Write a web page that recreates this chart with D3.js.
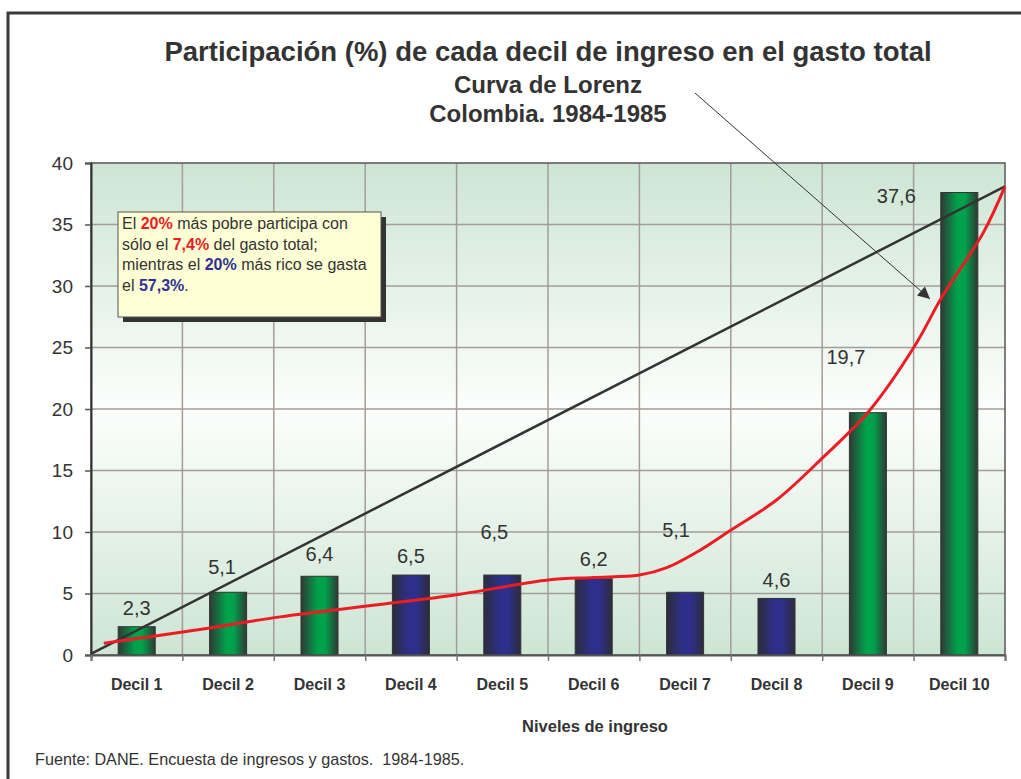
<!DOCTYPE html>
<html>
<head>
<meta charset="utf-8">
<script src="https://cdn.jsdelivr.net/npm/d3@7"></script>
<style>
  body { margin: 0; background: #fff; }
  text { font-family: "Liberation Sans", Arial, sans-serif; fill: #333; white-space: pre; }
</style>
</head>
<body>
<div id="chart"></div>
<script>
// data
const categories = ["Decil 1", "Decil 2", "Decil 3", "Decil 4", "Decil 5",
                    "Decil 6", "Decil 7", "Decil 8", "Decil 9", "Decil 10"];
const shares = [2.3, 5.1, 6.4, 6.5, 6.5, 6.2, 5.1, 4.6, 19.7, 37.6];
const shareLabels = ["2,3", "5,1", "6,4", "6,5", "6,5", "6,2", "5,1", "4,6", "19,7", "37,6"];
const yTicks = [0, 5, 10, 15, 20, 25, 30, 35, 40];

// lorenz curve (x in decile units 0..10)
const lorenzX = [0.14, 1.3, 2.07, 3.16, 4.0, 5.0, 5.5, 6.0, 6.3, 6.66, 7.01, 7.5, 8.0, 8.52, 9.01, 9.31, 9.76, 10];
const lorenzY = [0.95, 2.2, 3.1, 4.1, 4.9, 6.1, 6.3, 6.5, 7.1, 8.5, 10.2, 12.6, 16.0, 19.9, 25.1, 29.1, 34.3, 38.1];
// equality line
const equalX = [0, 10];
const equalY = [0.1, 38.1];

// label nudges (the labels were moved by hand in the original)
const labelShift = [[0, -19], [-6, -25], [0, -22], [0, -19], [-8, -43],
                    [0, -20], [-9, -62], [0, -18], [-22, -56], [-63, 3]];

const W = 1021, H = 779;
const plotL = 91, plotR = 1005, plotT = 163, plotB = 655;
const font = "'Liberation Sans', Arial, sans-serif";

const svg = d3.select("#chart").append("svg")
  .attr("width", W).attr("height", H);

const defs = svg.append("defs");

let bg = defs.append("linearGradient").attr("id", "bg")
  .attr("x1", 0).attr("y1", 0).attr("x2", 0).attr("y2", 1);
bg.append("stop").attr("offset", "0%").attr("stop-color", "#cde5d4");
bg.append("stop").attr("offset", "50%").attr("stop-color", "#fcfefc");
bg.append("stop").attr("offset", "100%").attr("stop-color", "#cde5d4");

function cylinder(id, edge, mid) {
  let g = defs.append("linearGradient").attr("id", id)
    .attr("x1", 0).attr("y1", 0).attr("x2", 1).attr("y2", 0);
  g.append("stop").attr("offset", "0%").attr("stop-color", edge);
  g.append("stop").attr("offset", "45%").attr("stop-color", mid);
  g.append("stop").attr("offset", "65%").attr("stop-color", mid);
  g.append("stop").attr("offset", "100%").attr("stop-color", edge);
}
cylinder("greenBar", "#2f3a35", "#00a14b");
cylinder("blueBar", "#2c2c3c", "#2e2f8c");

defs.append("marker").attr("id", "arrow")
  .attr("viewBox", "0 0 10 10").attr("refX", 10).attr("refY", 5)
  .attr("markerWidth", 16).attr("markerHeight", 12).attr("markerUnits", "userSpaceOnUse")
  .attr("orient", "auto")
  .append("path").attr("d", "M0,0 L10,5 L0,10 z").attr("fill", "#333");

// outer frame
svg.append("rect")
  .attr("x", 8).attr("y", 13).attr("width", W + 20).attr("height", H + 20)
  .attr("fill", "none").attr("stroke", "#3a3a3a").attr("stroke-width", 3);

// scales
const x = d3.scaleBand().domain(categories).range([plotL, plotR]).padding(0);
const xLin = d3.scaleLinear().domain([0, 10]).range([plotL, plotR]);
const y = d3.scaleLinear().domain([0, 40]).range([plotB, plotT]);

// plot area
svg.append("rect")
  .attr("x", plotL).attr("y", plotT).attr("width", plotR - plotL).attr("height", plotB - plotT)
  .attr("fill", "url(#bg)");

// grid
svg.append("g").selectAll("line")
  .data(yTicks.slice(1, -1)).enter().append("line")
  .attr("x1", plotL).attr("x2", plotR)
  .attr("y1", d => y(d)).attr("y2", d => y(d))
  .attr("stroke", "#a59c9a").attr("stroke-width", 1.5);
svg.append("g").selectAll("line")
  .data(d3.range(1, 10)).enter().append("line")
  .attr("x1", d => xLin(d)).attr("x2", d => xLin(d))
  .attr("y1", plotT).attr("y2", plotB)
  .attr("stroke", "#a59c9a").attr("stroke-width", 1.5);

svg.append("rect")
  .attr("x", plotL).attr("y", plotT).attr("width", plotR - plotL).attr("height", plotB - plotT)
  .attr("fill", "none").attr("stroke", "#5a5656").attr("stroke-width", 1.5);

// bars
const barW = x.bandwidth() * 0.405;
svg.append("g").selectAll("rect")
  .data(shares).enter().append("rect")
  .attr("x", (d, i) => x(categories[i]) + (x.bandwidth() - barW) / 2)
  .attr("y", d => y(d))
  .attr("width", barW)
  .attr("height", d => plotB - y(d))
  .attr("fill", (d, i) => (i < 3 || i > 7) ? "url(#greenBar)" : "url(#blueBar)")
  .attr("stroke", "#333").attr("stroke-width", 1);

// equality line
svg.append("path")
  .datum(equalX.map((v, i) => [v, equalY[i]]))
  .attr("d", d3.line().x(d => xLin(d[0])).y(d => y(d[1])))
  .attr("fill", "none").attr("stroke", "#333").attr("stroke-width", 2.5);

// lorenz curve
svg.append("path")
  .datum(lorenzX.map((v, i) => [v, lorenzY[i]]))
  .attr("d", d3.line().curve(d3.curveCatmullRom.alpha(0.5)).x(d => xLin(d[0])).y(d => y(d[1])))
  .attr("fill", "none").attr("stroke", "#ed1c24").attr("stroke-width", 3);

// value labels
svg.append("g").selectAll("text")
  .data(shares).enter().append("text")
  .attr("x", (d, i) => x(categories[i]) + x.bandwidth() / 2 + labelShift[i][0])
  .attr("y", (d, i) => y(d) + labelShift[i][1])
  .attr("dy", "0.35em")
  .attr("text-anchor", "middle")
  .style("font-size", "20px")
  .text((d, i) => shareLabels[i]);

// axes
const yAxis = d3.axisLeft(y).tickValues(yTicks).tickSize(6).tickPadding(12);
const gy = svg.append("g").attr("transform", "translate(" + plotL + ",0)").call(yAxis);
gy.select(".domain").attr("stroke", "#333").attr("stroke-width", 2);
gy.selectAll(".tick line").attr("stroke", "#555").attr("stroke-width", 1.5);
gy.selectAll(".tick text").style("font-size", "19px").attr("fill", "#333")
  .style("font-family", font);

const xTickAxis = d3.axisBottom(xLin).tickValues(d3.range(0, 11)).tickSize(6).tickFormat("");
const gxt = svg.append("g").attr("transform", "translate(0," + plotB + ")").call(xTickAxis);
gxt.select(".domain").attr("stroke", "#555").attr("stroke-width", 2);
gxt.selectAll(".tick line").attr("stroke", "#777").attr("stroke-width", 1.5);

const xAxis = d3.axisBottom(x).tickSize(0).tickPadding(24);
const gx = svg.append("g").attr("transform", "translate(0," + plotB + ")").call(xAxis);
gx.select(".domain").remove();
gx.selectAll(".tick text").style("font-size", "16px").style("font-weight", "bold").attr("fill", "#333")
  .style("font-family", font);

// titles
svg.append("text").attr("x", 548).attr("y", 61).attr("text-anchor", "middle")
  .style("font-size", "27.5px").style("font-weight", "bold")
  .text("Participación (%) de cada decil de ingreso en el gasto total");
svg.append("text").attr("x", 548).attr("y", 93).attr("text-anchor", "middle")
  .style("font-size", "24px").style("font-weight", "bold")
  .text("Curva de Lorenz");
svg.append("text").attr("x", 548).attr("y", 122).attr("text-anchor", "middle")
  .style("font-size", "24px").style("font-weight", "bold")
  .text("Colombia. 1984-1985");

svg.append("text").attr("x", 595).attr("y", 732).attr("text-anchor", "middle")
  .style("font-size", "16.5px").style("font-weight", "bold")
  .text("Niveles de ingreso");

svg.append("text").attr("x", 35).attr("y", 765)
  .style("font-size", "16.2px")
  .text("Fuente: DANE. Encuesta de ingresos y gastos.  1984-1985.");

// arrow from subtitle to curve
svg.append("line")
  .attr("x1", 695).attr("y1", 93).attr("x2", 930).attr("y2", 299)
  .attr("stroke", "#333").attr("stroke-width", 1)
  .attr("marker-end", "url(#arrow)");

// note box
const box = { x: 118, y: 212, w: 263, h: 105 };
svg.append("rect").attr("x", box.x + 5).attr("y", box.y + 5)
  .attr("width", box.w).attr("height", box.h).attr("fill", "#333");
svg.append("rect").attr("x", box.x).attr("y", box.y)
  .attr("width", box.w).attr("height", box.h)
  .attr("fill", "#ffffd6").attr("stroke", "#555").attr("stroke-width", 1);

const noteLines = [
  [["El ", null], ["20%", "#ed1c24"], [" más pobre participa con", null]],
  [["sólo el ", null], ["7,4%", "#ed1c24"], [" del gasto total;", null]],
  [["mientras el ", null], ["20%", "#2e3192"], [" más rico se gasta", null]],
  [["el ", null], ["57,3%", "#2e3192"], [".", null]]
];
noteLines.forEach((parts, li) => {
  const t = svg.append("text").attr("x", box.x + 4).attr("y", box.y + 17 + li * 20.7)
    .style("font-size", "16px");
  parts.forEach(p => {
    const s = t.append("tspan").text(p[0]);
    if (p[1]) s.style("font-weight", "bold").style("fill", p[1]);
  });
});
</script>
</body>
</html>
